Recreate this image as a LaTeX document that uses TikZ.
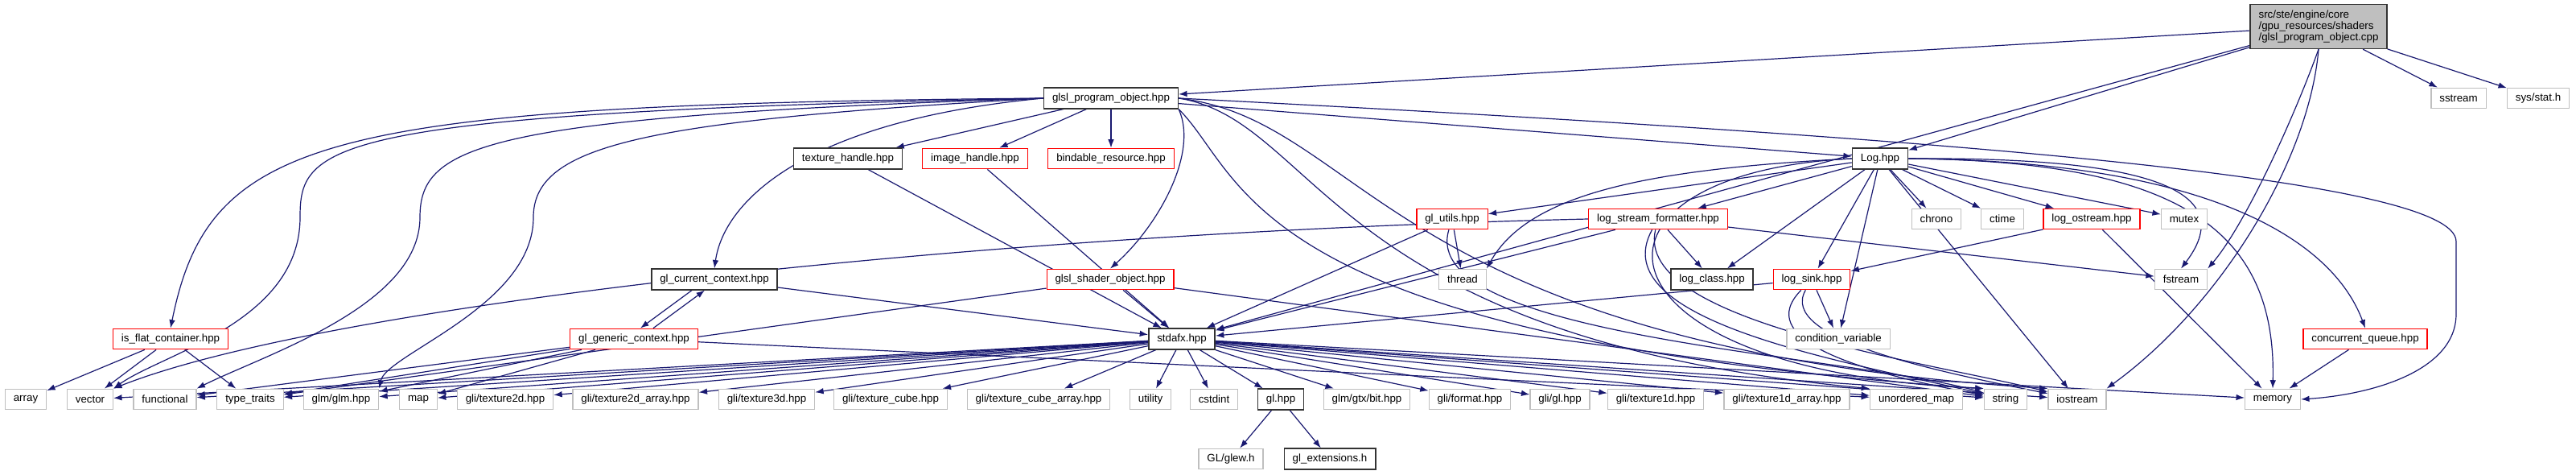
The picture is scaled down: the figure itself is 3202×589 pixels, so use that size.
\documentclass[tikz,border=0pt]{standalone}
\usepackage{fontspec}
\setmainfont{Liberation Sans}
\usepackage{tikz}
\usetikzlibrary{arrows.meta,positioning,calc,backgrounds}
\usepackage{xcolor}
\definecolor{incblue}{HTML}{191970}
\definecolor{incgray}{HTML}{BFBFBF}
\newcommand{\incfont}{\fontsize{3.33pt}{3.6pt}\selectfont}
\tikzset{
  incbox/.style={draw=black!80, line width=0.4pt, fill=white, rectangle, inner xsep=2.6pt, inner ysep=0pt, minimum height=6.4pt, font=\incfont},
  incred/.style={incbox, draw=red, line width=0.3pt},
  incsys/.style={incbox, draw=incgray, line width=0.3pt},
  incroot/.style={incbox, fill=incgray, align=left, minimum height=13.7pt},
  incarrow/.style={-{Latex[length=2.6pt,width=1.9pt]}, draw=incblue, line width=0.3pt},
}

\begin{document}
\begin{tikzpicture}[x=0.25pt, y=-0.25pt]
  \useasboundingbox (0,0) rectangle (3202,589);

  \node[incroot] (cpp) at (2882,33)
    {src/ste/engine/core\\/gpu\_resources/shaders\\/glsl\_program\_object.cpp};

  \node[incbox] (progobj) at (1381,122) {glsl\_program\_object.hpp};
  \node[incsys] (sstream) at (3056,122) {sstream};
  \node[incsys] (sysstat) at (3155,122) {sys/stat.h};

  \node[incbox] (texhandle) at (1054,197) {texture\_handle.hpp};
  \node[incred] (imghandle) at (1212,197) {image\_handle.hpp};
  \node[incred] (bindres) at (1381,197) {bindable\_resource.hpp};
  \node[incbox] (log) at (2337,197) {Log.hpp};

  \node[incred] (glutils) at (1805,272) {gl\_utils.hpp};
  \node[incred] (logfmt) at (2061,272) {log\_stream\_formatter.hpp};
  \node[incsys] (chrono) at (2407,272) {chrono};
  \node[incsys] (ctime) at (2489,272) {ctime};
  \node[incred] (logostream) at (2600,272) {log\_ostream.hpp};
  \node[incsys] (mutex) at (2715,272) {mutex};

  \node[incbox] (curctx) at (888,347) {gl\_current\_context.hpp};
  \node[incred] (shaderobj) at (1380,347) {glsl\_shader\_object.hpp};
  \node[incsys] (thread) at (1818,347) {thread};
  \node[incbox] (logclass) at (2128,347) {log\_class.hpp};
  \node[incred] (logsink) at (2252,347) {log\_sink.hpp};
  \node[incsys] (fstream) at (2711,347) {fstream};

  \node[incred] (flatcont) at (212,421) {is\_flat\_container.hpp};
  \node[incred] (genctx) at (788,421) {gl\_generic\_context.hpp};
  \node[incbox] (stdafx) at (1469,421) {stdafx.hpp};
  \node[incsys] (condvar) at (2285,421) {condition\_variable};
  \node[incred] (concq) at (2940,421) {concurrent\_queue.hpp};

  \node[incsys] (array) at (32,496) {array};
  \node[incsys] (vector) at (112,496) {vector};
  \node[incsys] (functional) at (205,496) {functional};
  \node[incsys] (typetraits) at (311,496) {type\_traits};
  \node[incsys] (glm) at (424,496) {glm/glm.hpp};
  \node[incsys] (map) at (520,496) {map};
  \node[incsys] (tex2d) at (628,496) {gli/texture2d.hpp};
  \node[incsys] (tex2darr) at (790,496) {gli/texture2d\_array.hpp};
  \node[incsys] (tex3d) at (953,496) {gli/texture3d.hpp};
  \node[incsys] (texcube) at (1107,496) {gli/texture\_cube.hpp};
  \node[incsys] (texcubearr) at (1291,496) {gli/texture\_cube\_array.hpp};
  \node[incsys] (utility) at (1430,496) {utility};
  \node[incsys] (cstdint) at (1509,496) {cstdint};
  \node[incbox] (glhpp) at (1592,496) {gl.hpp};
  \node[incsys] (gtxbit) at (1699,496) {glm/gtx/bit.hpp};
  \node[incsys] (gliformat) at (1827,496) {gli/format.hpp};
  \node[incsys] (gligl) at (1939,496) {gli/gl.hpp};
  \node[incsys] (tex1d) at (2058,496) {gli/texture1d.hpp};
  \node[incsys] (tex1darr) at (2221,496) {gli/texture1d\_array.hpp};
  \node[incsys] (umap) at (2382,496) {unordered\_map};
  \node[incsys] (string) at (2493,496) {string};
  \node[incsys] (iostream) at (2582,496) {iostream};
  \node[incsys] (memory) at (2825,496) {memory};

  \node[incsys] (glew) at (1530,570) {GL/glew.h};
  \node[incbox] (glext) at (1653,570) {gl\_extensions.h};

  \begin{pgfonlayer}{background}
  \draw[incarrow] (cpp) -- (progobj);
  \draw[incarrow] (cpp) -- (sstream);
  \draw[incarrow] (cpp) -- (sysstat);
  \draw[incarrow] (cpp) -- (log);
  \draw[incarrow] (cpp) -- (stdafx);
  \draw[incarrow] (cpp.south) .. controls (2850,150) and (2790,280) .. (fstream.north east);
  \draw[incarrow] (cpp.south) .. controls (2870,200) and (2760,380) .. (iostream.north east);

  \draw[incarrow] (progobj) -- (texhandle);
  \draw[incarrow] (progobj) -- (imghandle);
  \draw[incarrow] (progobj) -- (bindres);
  \draw[incarrow] (progobj) -- (log);
  \draw[incarrow] (progobj.west) .. controls (400,130) and (260,170) .. (flatcont.north);
  \draw[incarrow] (progobj.west) .. controls (400,140) and (373,180) .. (373,270) .. controls (373,400) and (200,440) .. (vector.north east);
  \draw[incarrow] (progobj.west) .. controls (600,145) and (522,180) .. (522,270) .. controls (522,380) and (330,440) .. (functional.north east);
  \draw[incarrow] (progobj.west) .. controls (800,150) and (663,180) .. (663,270) .. controls (663,380) and (480,440) .. (glm.north east);
  \draw[incarrow] (progobj.west) .. controls (1000,150) and (900,250) .. (curctx.north);
  \draw[incarrow] (progobj.south east) .. controls (1490,190) and (1440,280) .. (shaderobj.north);
  \draw[incarrow] (progobj.south east) .. controls (1550,220) and (1545,420) .. (string.north west);
  \draw[incarrow] (progobj.east) .. controls (1640,150) and (1650,420) .. (umap.north west);
  \draw[incarrow] (progobj.east) .. controls (1700,150) and (1720,430) .. (iostream.north west);
  \draw[incarrow] (progobj.east) .. controls (2400,170) and (3053,220) .. (3053,300) -- (3053,390) .. controls (3053,460) and (2950,490) .. (memory.east);

  \draw[incarrow] (texhandle) -- (stdafx);
  \draw[incarrow] (imghandle) -- (stdafx);
  \draw[incarrow] (curctx) -- (stdafx);
  \draw[incarrow] ([xshift=-7pt]curctx.south) -- ([xshift=2pt]genctx.north);
  \draw[incarrow] ([xshift=6pt]genctx.north) -- ([xshift=-3pt]curctx.south);
  \draw[incarrow] (shaderobj) -- (stdafx);
  \draw[incarrow] (shaderobj) -- (typetraits);
  \draw[incarrow] (shaderobj) -- (string);

  \draw[incarrow] (genctx) -- (functional);
  \draw[incarrow] (genctx) -- (typetraits);
  \draw[incarrow] (genctx) -- (glm);
  \draw[incarrow] (genctx) -- (map);
  \draw[incarrow] (genctx) -- (umap);

  \draw[incarrow] (flatcont) -- (array);
  \draw[incarrow] (flatcont) -- (vector);
  \draw[incarrow] (flatcont) -- (typetraits);

  \draw[incarrow] (log) -- (glutils);
  \draw[incarrow] (log) -- (logfmt);
  \draw[incarrow] (log.west) .. controls (2050,210) and (1900,240) .. (thread.north east);
  \draw[incarrow] (log) -- (logclass);
  \draw[incarrow] (log) -- (logsink);
  \draw[incarrow] (log) -- (condvar);
  \draw[incarrow] (log) -- (chrono);
  \draw[incarrow] (log) -- (ctime);
  \draw[incarrow] (log) -- (logostream);
  \draw[incarrow] (log) -- (mutex);
  \draw[incarrow] (log.east) .. controls (2650,195) and (2790,230) .. (fstream.north);
  \draw[incarrow] (log.east) .. controls (2700,200) and (2830,280) .. (memory.north);
  \draw[incarrow] (log.east) .. controls (2750,200) and (2900,300) .. (concq.north);
  \draw[incarrow] (log) -- (iostream);
  \draw[incarrow] (log.west) .. controls (1940,215) and (1960,460) .. (string.north west);

  \draw[incarrow] (glutils) -- (thread);
  \draw[incarrow] (glutils) -- (stdafx);
  \draw[incarrow] (glutils) .. controls (1760,420) and (2300,440) .. (string);

  \draw[incarrow] (logfmt) -- (logclass);
  \draw[incarrow] (logfmt) -- (fstream);
  \draw[incarrow] (logfmt) -- (stdafx);
  \draw[incarrow] (logfmt.west) .. controls (1200,290) and (400,380) .. (vector.north east);
  \draw[incarrow] (logfmt) .. controls (1990,400) and (2300,450) .. (string);
  \draw[incarrow] (logfmt) .. controls (2030,400) and (2400,450) .. (iostream);

  \draw[incarrow] (logostream) -- (logsink);
  \draw[incarrow] (logostream) -- (memory);
  \draw[incarrow] (logsink) -- (condvar);
  \draw[incarrow] (logsink) -- (stdafx);
  \draw[incarrow] (logsink) .. controls (2180,420) and (2300,460) .. (string);
  \draw[incarrow] (logsink) .. controls (2210,420) and (2400,460) .. (iostream);
  \draw[incarrow] (concq) -- (memory);

  \draw[incarrow] (stdafx) -- (vector);
  \draw[incarrow] (stdafx) -- (functional);
  \draw[incarrow] (stdafx) -- (typetraits);
  \draw[incarrow] (stdafx) -- (glm);
  \draw[incarrow] (stdafx) -- (map);
  \draw[incarrow] (stdafx) -- (tex2d);
  \draw[incarrow] (stdafx) -- (tex2darr);
  \draw[incarrow] (stdafx) -- (tex3d);
  \draw[incarrow] (stdafx) -- (texcube);
  \draw[incarrow] (stdafx) -- (texcubearr);
  \draw[incarrow] (stdafx) -- (utility);
  \draw[incarrow] (stdafx) -- (cstdint);
  \draw[incarrow] (stdafx) -- (glhpp);
  \draw[incarrow] (stdafx) -- (gtxbit);
  \draw[incarrow] (stdafx) -- (gliformat);
  \draw[incarrow] (stdafx) -- (gligl);
  \draw[incarrow] (stdafx) -- (tex1d);
  \draw[incarrow] (stdafx) -- (tex1darr);
  \draw[incarrow] (stdafx) -- (umap);
  \draw[incarrow] (stdafx) -- (string);
  \draw[incarrow] (stdafx) -- (iostream);
  \draw[incarrow] (stdafx) -- (memory);

  \draw[incarrow] (glhpp) -- (glew);
  \draw[incarrow] (glhpp) -- (glext);
  \end{pgfonlayer}
\end{tikzpicture}
\end{document}
